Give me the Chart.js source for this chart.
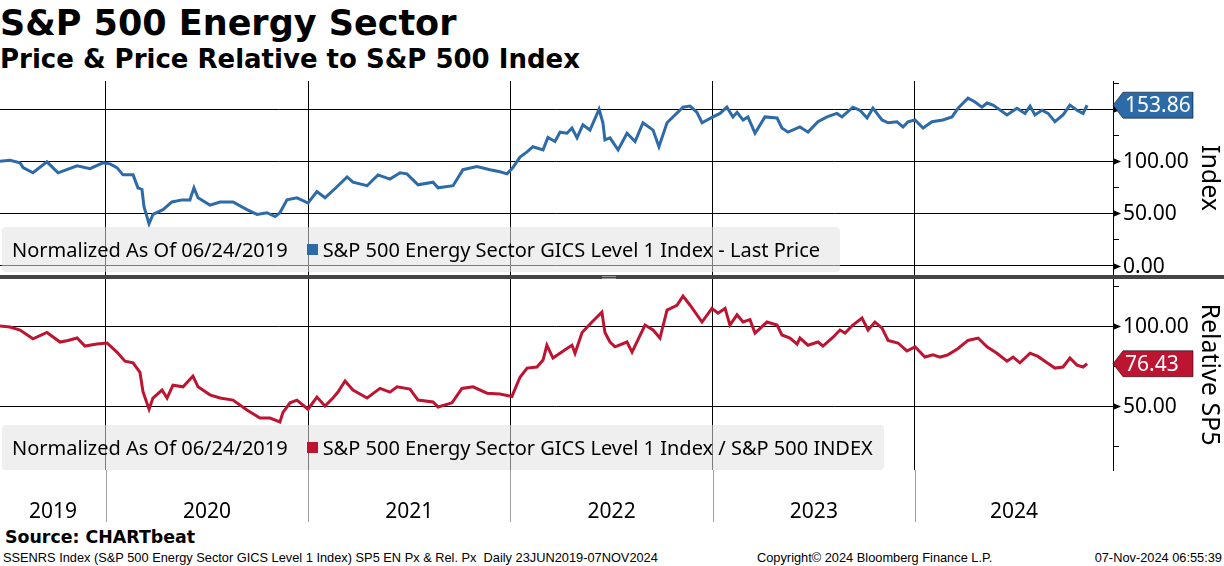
<!DOCTYPE html>
<html>
<head>
<meta charset="utf-8">
<script src="https://cdn.jsdelivr.net/npm/chart.js@4.4.1/dist/chart.umd.min.js"></script>
<style>
  body {
    margin: 0;
    width: 1224px;
    height: 566px;
    background: #fff;
    position: relative;
    overflow: hidden;
    color: #000;
    font-family: "Noto Sans", sans-serif;
  }
  .abs { position: absolute; white-space: nowrap; line-height: normal; }
  #title { left: 0; top: 3px; font: bold 35px "DejaVu Sans"; }
  #subtitle { left: 0; top: 44px; font: bold 26px "DejaVu Sans"; }
  #price-chart { position: absolute; left: 0; top: 81px; }
  #relative-chart { position: absolute; left: 0; top: 279px; }
  .divider { position: absolute; left: 0; top: 275px; width: 1224px; height: 4px; background: #444; }
  .grip { position: absolute; left: 602px; top: 276px; width: 14px; height: 1px; border-top: 1px solid #999; border-bottom: 1px solid #999; }
  .legend {
    position: absolute;
    left: 2px;
    height: 45px;
    display: flex;
    align-items: center;
    padding-left: 10px;
    box-sizing: border-box;
    background: rgba(225, 225, 225, 0.55);
    border-radius: 4px;
    font-size: 20px;
    white-space: nowrap;
  }
  .legend i { display: inline-block; width: 11px; height: 11px; margin: 0 5px 0 19px; }
  #source { left: 5px; top: 527px; font: bold 17.4px "DejaVu Sans"; }
  .foot { top: 550px; font: 12.8px "Liberation Sans"; }
</style>
</head>
<body>
  <div id="title" class="abs">S&amp;P 500 Energy Sector</div>
  <div id="subtitle" class="abs">Price &amp; Price Relative to S&amp;P 500 Index</div>

  <canvas id="price-chart" width="1224" height="194"></canvas>
  <div class="legend" style="top: 227px; width: 838px">
    <span>Normalized As Of 06/24/2019</span><i style="background: #2c6ba8"></i><span id="price-label"></span>
  </div>

  <div class="divider"></div>
  <div class="grip"></div>

  <canvas id="relative-chart" width="1224" height="243"></canvas>
  <div class="legend" style="top: 425px; width: 882px">
    <span>Normalized As Of 06/24/2019</span><i style="background: #bd1531"></i><span id="relative-label"></span>
  </div>

  <div id="source" class="abs">Source: CHARTbeat</div>
  <div class="abs foot" style="left: 3px">SSENRS Index (S&amp;P 500 Energy Sector GICS Level 1 Index) SP5 EN Px &amp; Rel. Px&nbsp; Daily 23JUN2019-07NOV2024</div>
  <div class="abs foot" style="left: 757px">Copyright© 2024 Bloomberg Finance L.P.</div>
  <div class="abs foot" style="right: 2px">07-Nov-2024 06:55:39</div>

<script>
  // dates are decimal years, values normalized to 100 on 06/24/2019
  const years = [2019, 2020, 2021, 2022, 2023, 2024];
  const priceTicks = [0, 50, 100, 150];
  const relativeTicks = [50, 100];

  const priceLabel = "S&P 500 Energy Sector GICS Level 1 Index - Last Price";
  const relativeLabel = "S&P 500 Energy Sector GICS Level 1 Index / S&P 500 INDEX";

  const priceDates = [
    2019.476, 2019.525, 2019.575, 2019.590, 2019.639, 2019.708, 2019.763, 2019.857, 2019.921, 2019.985,
    2020.020, 2020.054, 2020.084, 2020.134, 2020.158, 2020.178, 2020.188, 2020.213, 2020.232, 2020.282,
    2020.326, 2020.376, 2020.415, 2020.435, 2020.455, 2020.514, 2020.564, 2020.628, 2020.697, 2020.747,
    2020.796, 2020.836, 2020.860, 2020.895, 2020.944, 2020.999, 2021.043, 2021.083, 2021.142, 2021.192,
    2021.221, 2021.291, 2021.345, 2021.404, 2021.454, 2021.488, 2021.543, 2021.617, 2021.642, 2021.716,
    2021.765, 2021.834, 2021.899, 2021.948, 2021.983, 2022.012, 2022.047, 2022.082, 2022.111, 2022.161,
    2022.185, 2022.220, 2022.245, 2022.279, 2022.304, 2022.329, 2022.358, 2022.393, 2022.438, 2022.457,
    2022.467, 2022.492, 2022.532, 2022.576, 2022.616, 2022.655, 2022.705, 2022.734, 2022.774, 2022.803,
    2022.853, 2022.888, 2022.922, 2022.947, 2023.001, 2023.036, 2023.070, 2023.100, 2023.120, 2023.150,
    2023.174, 2023.209, 2023.258, 2023.318, 2023.342, 2023.372, 2023.431, 2023.471, 2023.520, 2023.565,
    2023.614, 2023.639, 2023.693, 2023.728, 2023.763, 2023.792, 2023.837, 2023.867, 2023.911, 2023.941,
    2023.965, 2024.000, 2024.040, 2024.084, 2024.138, 2024.183, 2024.213, 2024.262, 2024.297, 2024.331,
    2024.356, 2024.386, 2024.455, 2024.504, 2024.544, 2024.569, 2024.593, 2024.628, 2024.658, 2024.692,
    2024.732, 2024.766, 2024.801, 2024.831, 2024.851
  ];
  const priceValues = [
    100, 101, 98.6, 94, 89, 99.5, 89, 95.7, 93, 98.6,
    97.6, 94, 87, 87, 74.6, 73, 56.5, 40, 49, 53.6,
    61, 63, 63, 74.6, 65, 58, 61, 61, 53.6, 49,
    50.7, 47, 50.7, 63, 65, 60, 71, 65, 75.6, 85,
    80, 76.6, 87, 83, 89, 88, 77.5, 80, 74.6, 76.6,
    92, 95, 92, 90, 88, 94, 104, 109, 114, 111,
    123, 119, 128, 127, 132, 122.5, 135, 130, 150, 137,
    120.6, 122.5, 111, 127, 119, 137, 130, 114, 137, 142.6,
    152, 153, 147, 137, 142.6, 146, 152, 142.6, 147, 139.7,
    142.6, 127, 142.6, 141.6, 132, 128, 133, 128, 138, 142.6,
    146, 142.6, 152, 149, 141.6, 151, 139.7, 137, 138, 133,
    138, 139.7, 132, 138, 139.7, 142.6, 151, 160.7, 157, 152,
    156, 154, 144.5, 151, 146, 153, 144.5, 149, 146, 138,
    144.5, 154, 149, 146, 153.86
  ];

  const relativeDates = [
    2019.476, 2019.525, 2019.575, 2019.639, 2019.708, 2019.773, 2019.812, 2019.857, 2019.896, 2019.955,
    2020.005, 2020.054, 2020.094, 2020.134, 2020.168, 2020.183, 2020.213, 2020.232, 2020.277, 2020.302,
    2020.331, 2020.381, 2020.430, 2020.455, 2020.514, 2020.564, 2020.628, 2020.697, 2020.761, 2020.811,
    2020.860, 2020.875, 2020.910, 2020.944, 2020.999, 2021.043, 2021.083, 2021.122, 2021.147, 2021.182,
    2021.221, 2021.291, 2021.355, 2021.404, 2021.439, 2021.503, 2021.543, 2021.617, 2021.642, 2021.711,
    2021.760, 2021.815, 2021.884, 2021.948, 2022.007, 2022.047, 2022.082, 2022.131, 2022.161, 2022.180,
    2022.210, 2022.279, 2022.304, 2022.319, 2022.354, 2022.403, 2022.452, 2022.467, 2022.492, 2022.517,
    2022.576, 2022.601, 2022.665, 2022.705, 2022.739, 2022.774, 2022.823, 2022.853, 2022.888, 2022.947,
    2022.996, 2023.026, 2023.061, 2023.085, 2023.120, 2023.150, 2023.184, 2023.209, 2023.268, 2023.318,
    2023.342, 2023.382, 2023.417, 2023.431, 2023.471, 2023.520, 2023.545, 2023.595, 2023.629, 2023.654,
    2023.693, 2023.738, 2023.768, 2023.802, 2023.837, 2023.867, 2023.916, 2023.960, 2024.000, 2024.049,
    2024.089, 2024.124, 2024.163, 2024.213, 2024.262, 2024.312, 2024.356, 2024.405, 2024.455, 2024.485,
    2024.519, 2024.569, 2024.608, 2024.653, 2024.692, 2024.732, 2024.766, 2024.801, 2024.831, 2024.851
  ];
  const relativeValues = [
    100, 99.4, 97.5, 92, 96, 90, 91, 92.5, 87.5, 88.7,
    89.4, 83.7, 78, 77, 71, 59, 48, 55, 60, 55,
    63, 62, 68.7, 62, 57, 55, 53.7, 47.5, 42.5, 42.5,
    40, 46, 52, 53.7, 48, 55.6, 50, 55, 58.7, 65.6,
    60, 55, 61, 58.7, 62, 60.6, 53.7, 52.5, 49.4, 52,
    61, 62, 58, 57.5, 56, 68, 73.7, 74.4, 78.7, 88,
    80, 86, 88, 83, 96, 102.5, 108.7, 96, 90, 87,
    90, 83.7, 100.6, 97.5, 92.5, 110, 113, 118.7, 113, 102.5,
    111, 108, 111, 100.6, 107, 102.5, 104, 95.6, 102.5, 100.6,
    94.4, 92.5, 88.7, 92.5, 88, 90, 87.5, 93, 97.5, 95.6,
    100.6, 105, 97.5, 102.5, 98.7, 91, 89.4, 84.4, 87, 80.6,
    82, 80.6, 82, 86, 91, 92.5, 87, 83, 78, 80.6,
    77, 83, 81, 77, 73.7, 74.4, 80, 75.6, 74.4, 76.43
  ];

  const BLUE = "#2c6ba8";
  const RED = "#bd1531";
  const X_MIN = 2019.476;
  const X_MAX = 2024.979;

  document.getElementById("price-label").textContent = priceLabel;
  document.getElementById("relative-label").textContent = relativeLabel;

  const toPoints = (dates, values) => dates.map((d, i) => ({ x: d, y: values[i] }));

  // tick labels, arrowheads on major ticks, short minor ticks, last value tag
  const axisDecor = {
    id: "axisDecor",
    afterDraw(chart, args, opts) {
      const ctx = chart.ctx;
      const y = chart.scales.y;
      const right = chart.chartArea.right;
      ctx.save();
      ctx.fillStyle = "#000";
      ctx.strokeStyle = "#000";
      ctx.lineWidth = 1;
      ctx.font = "21px 'Noto Sans'";
      ctx.textAlign = "left";
      ctx.textBaseline = "middle";

      y.ticks.forEach((t) => {
        const py = Math.round(y.getPixelForValue(t.value)) + 0.5;
        ctx.beginPath();
        ctx.moveTo(right, py - 3.5);
        ctx.lineTo(right + 8, py);
        ctx.lineTo(right, py + 3.5);
        ctx.closePath();
        ctx.fill();
        ctx.fillText(t.value.toFixed(2), right + 10, py + 1);
      });

      const step = y.ticks[1].value - y.ticks[0].value;
      for (let v = y.ticks[0].value - step / 2; v <= y.max; v += step) {
        if (v < y.min) continue;
        const py = Math.round(y.getPixelForValue(v)) + 0.5;
        ctx.beginPath();
        ctx.moveTo(right, py);
        ctx.lineTo(right + 6, py);
        ctx.stroke();
      }

      const data = chart.data.datasets[0].data;
      const last = data[data.length - 1].y;
      const py = y.getPixelForValue(last);
      ctx.beginPath();
      ctx.moveTo(right, py);
      ctx.lineTo(right + 10, py - 13);
      ctx.lineTo(right + 80, py - 13);
      ctx.lineTo(right + 80, py + 13);
      ctx.lineTo(right + 10, py + 13);
      ctx.closePath();
      ctx.fillStyle = opts.color;
      ctx.fill();
      ctx.strokeStyle = "rgba(0,0,0,0.55)";
      ctx.stroke();
      ctx.fillStyle = "#fff";
      ctx.fillText(last.toFixed(2), right + 12, py + 1);
      ctx.restore();
    },
  };

  // gray year separators under the plot and year names centred in each span
  const yearAxis = {
    id: "yearAxis",
    afterDraw(chart) {
      const x = chart.scales.x;
      const area = chart.chartArea;
      const ctx = chart.ctx;
      ctx.save();
      ctx.strokeStyle = "#a0a0a0";
      ctx.lineWidth = 1;
      x.ticks.forEach((t) => {
        const px = Math.round(x.getPixelForValue(t.value)) + 0.5;
        ctx.beginPath();
        ctx.moveTo(px, area.bottom);
        ctx.lineTo(px, area.bottom + 52);
        ctx.stroke();
      });
      ctx.font = "21px 'Noto Sans'";
      ctx.fillStyle = "#000";
      ctx.textAlign = "center";
      ctx.textBaseline = "middle";
      years.forEach((yr) => {
        const a = x.getPixelForValue(Math.max(yr, x.min));
        const b = x.getPixelForValue(Math.min(yr + 1, x.max));
        ctx.fillText(String(yr), (a + b) / 2, area.bottom + 42);
      });
      ctx.restore();
    },
  };

  function makeChart(canvasId, dates, values, color, ticks, yMin, yMax, title, bottomRoom) {
    return new Chart(document.getElementById(canvasId), {
      type: "line",
      data: {
        datasets: [
          {
            data: toPoints(dates, values),
            borderColor: color,
            borderWidth: 3,
            pointRadius: 0,
            tension: 0,
          },
        ],
      },
      plugins: bottomRoom ? [axisDecor, yearAxis] : [axisDecor],
      options: {
        responsive: false,
        animation: false,
        devicePixelRatio: 1,
        layout: { padding: { top: 0, left: 0, right: 0, bottom: bottomRoom } },
        scales: {
          x: {
            type: "linear",
            min: X_MIN,
            max: X_MAX,
            afterBuildTicks: (s) => {
              s.ticks = years.filter((v) => v > X_MIN).map((v) => ({ value: v }));
            },
            ticks: { display: false },
            grid: { color: "#000", drawTicks: false },
            border: { display: false },
          },
          y: {
            position: "right",
            min: yMin,
            max: yMax,
            afterBuildTicks: (s) => {
              s.ticks = ticks.map((v) => ({ value: v }));
            },
            afterFit: (s) => {
              s.width = 111;
            },
            // labels are drawn by axisDecor so they keep no room at the ends
            ticks: { display: false },
            grid: { color: "#000", drawTicks: false },
            border: { display: true, color: "#000" },
            title: {
              display: true,
              text: title,
              color: "#000",
              font: { family: "Noto Sans", size: 25 },
              padding: 0,
            },
          },
        },
        plugins: {
          legend: { display: false },
          tooltip: { enabled: false },
          axisDecor: { color: color },
        },
      },
    });
  }

  makeChart("price-chart", priceDates, priceValues, BLUE, priceTicks, -9.1, 177.1, "Index", 0);
  makeChart("relative-chart", relativeDates, relativeValues, RED, relativeTicks, 10, 129.4, "Relative SP5", 52);
</script>
</body>
</html>
